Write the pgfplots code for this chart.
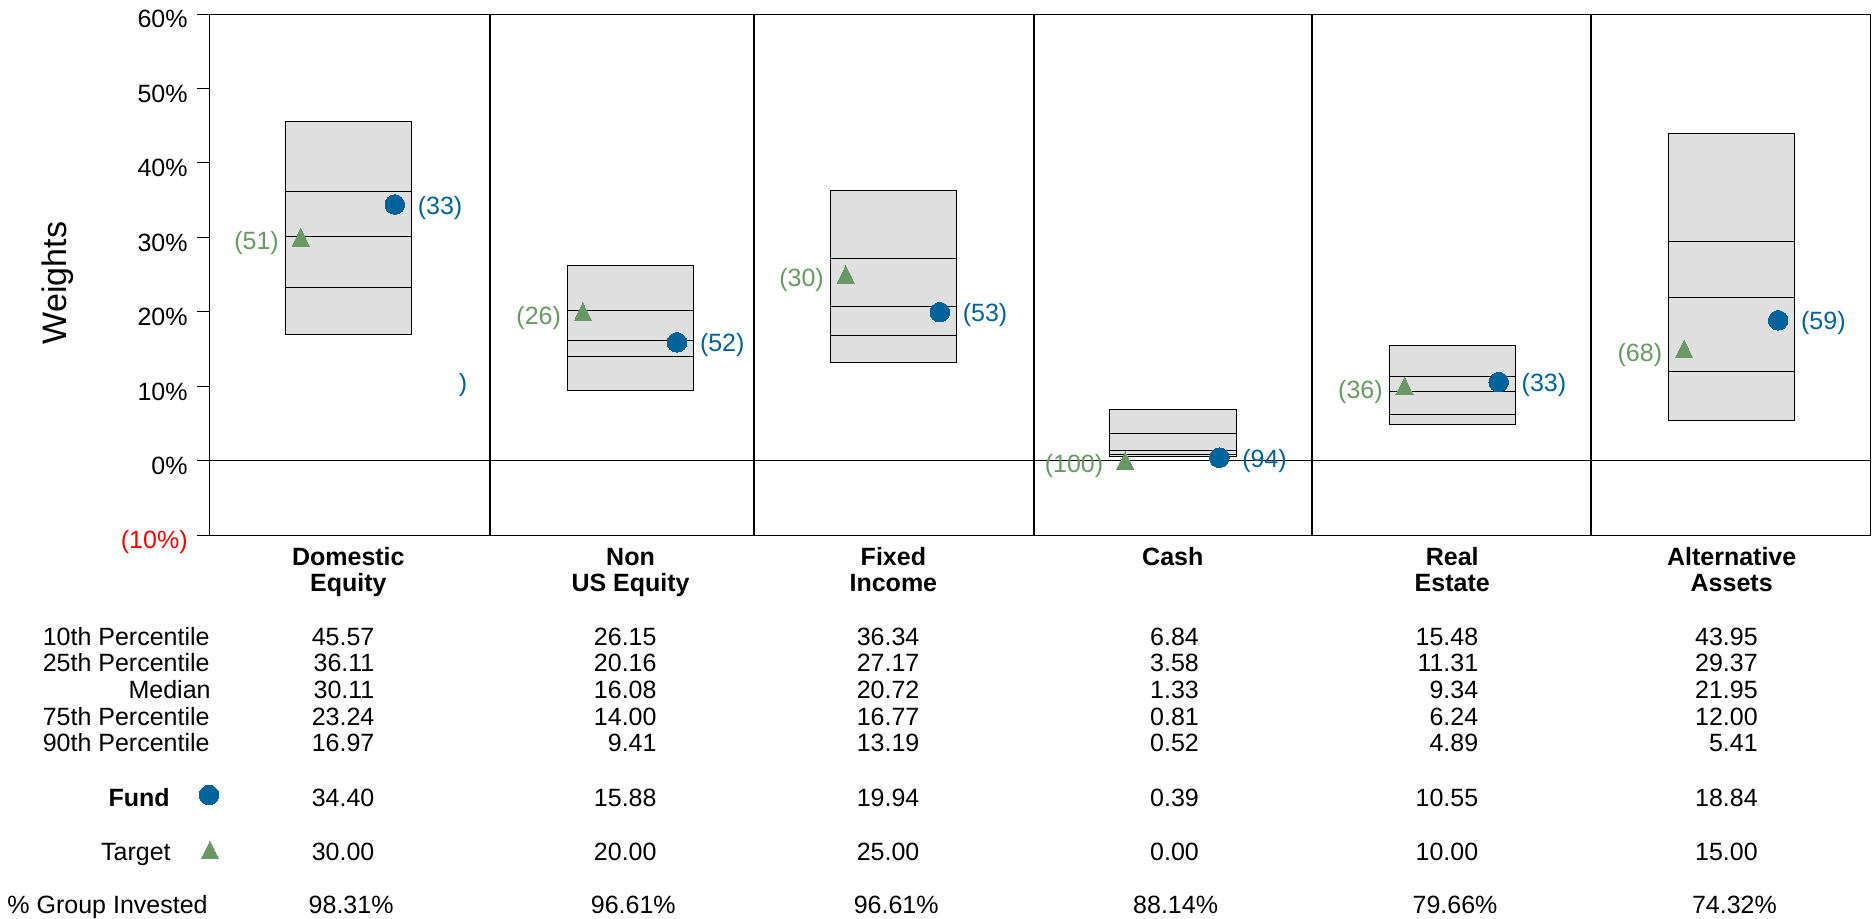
\documentclass[border=0pt]{standalone}
\usepackage{fontspec}
\setmainfont{Liberation Sans}
\usepackage{pgfplots}
\usepackage{pgfplotstable}
\pgfplotsset{compat=1.18}

\definecolor{fundblue}{RGB}{0,98,155}
\definecolor{targetgreen}{RGB}{104,152,100}
\definecolor{boxgray}{RGB}{223,223,223}

\newcommand\tf{\fontsize{12.5pt}{15pt}\selectfont}

% Asset allocation percentiles, fund and target weights, ranks, share of group invested
\pgfplotstableread{
pos   p10   p25   med   p75   p90   fund  target frank trank invested
0.00  45.57 36.11 30.11 23.24 16.97 34.40 30.00  33    51    98.31
1.02  26.15 20.16 16.08 14.00 9.41  15.88 20.00  52    26    96.61
1.97  36.34 27.17 20.72 16.77 13.19 19.94 25.00  53    30    96.61
2.98  6.84  3.58  1.33  0.81  0.52  0.39  0.00   94    100   88.14
3.99  15.48 11.31 9.34  6.24  4.89  10.55 10.00  33    36    79.66
5.00  43.95 29.37 21.95 12.00 5.41  18.84 15.00  59    68    74.32
}\alloc

\pgfplotsset{
  panelaxis/.style={width=830pt, height=260.5pt, scale only axis,
    xmin=-0.5, xmax=5.5, ymin=-10, ymax=60, at={(0,0)}, anchor=south west},
  boxseg/.style={draw=black, fill=boxgray, line width=0.5pt},
  fundmark/.style={only marks, mark=*, mark size=4.9pt, color=fundblue,
    mark options={solid, draw=fundblue, fill=fundblue, line width=0pt}},
  targetmark/.style={only marks, mark=triangle*, mark size=5.9pt, color=targetgreen,
    mark options={solid, draw=targetgreen, fill=targetgreen, line width=0pt,
      xscale=0.85, yshift=-1.45pt}},
}

\begin{document}
\begin{tikzpicture}
\useasboundingbox (-105pt,-191.5pt) rectangle (831.5pt,267.5pt);

% floating boxes: 90th -> 75th -> median -> 25th -> 10th percentile
\begin{axis}[panelaxis, hide axis, ybar stacked, bar width=0.457]
  \addplot[draw=none, fill=none] table[x=pos, y=p90] {\alloc};
  \addplot[boxseg] table[x=pos, y expr=\thisrow{p75}-\thisrow{p90}] {\alloc};
  \addplot[boxseg] table[x=pos, y expr=\thisrow{med}-\thisrow{p75}] {\alloc};
  \addplot[boxseg] table[x=pos, y expr=\thisrow{p25}-\thisrow{med}] {\alloc};
  \addplot[boxseg] table[x=pos, y expr=\thisrow{p10}-\thisrow{p25}] {\alloc};
\end{axis}

\begin{axis}[panelaxis, clip=false,
  /pgf/number format/assume math mode=true,
  axis line style={line width=0.5pt},
  xtick=\empty,
  ytick={-10,0,...,60},
  yticklabels={{\color{red}(10\%)},0\%,10\%,20\%,30\%,40\%,50\%,60\%},
  ytick pos=left, tick align=outside, major tick length=6.5pt,
  tick style={black, line width=0.5pt},
  yticklabel style={font=\tf, anchor=base east, inner sep=0pt, xshift=-4.5pt, yshift=-6.95pt},
  ylabel={Weights},
  every axis y label/.style={at={(rel axis cs:-0.09157,0.4837)}, rotate=90, anchor=center,
    font=\fontsize{17pt}{20pt}\selectfont},
]
  \draw[line width=0.5pt] (axis cs:-0.5,0) -- (axis cs:5.5,0);
  \draw[line width=1pt] (axis cs:0.512,-10) -- (axis cs:0.512,60);
  \draw[line width=0.6pt] (axis cs:1.466,-10) -- (axis cs:1.466,60);
  \draw[line width=0.6pt] (axis cs:2.478,-10) -- (axis cs:2.478,60);
  \draw[line width=0.6pt] (axis cs:3.483,-10) -- (axis cs:3.483,60);
  \draw[line width=1pt] (axis cs:4.491,-10) -- (axis cs:4.491,60);

  % fund weights with group ranks
  \addplot[fundmark,
    point meta=explicit,
    nodes near coords={(\pgfmathprintnumber{\pgfplotspointmeta})},
    every node near coord/.append style={anchor=west, xshift=11.5pt, yshift=-1.5pt,
      inner sep=0pt, font=\tf, text=fundblue}]
    table[x expr=\thisrow{pos}+0.168, y=fund, meta=frank] {\alloc};

  % target weights with group ranks
  \addplot[targetmark,
    point meta=explicit,
    nodes near coords={(\pgfmathprintnumber{\pgfplotspointmeta})},
    every node near coord/.append style={anchor=east, xshift=-11pt, yshift=-1.5pt,
      inner sep=0pt, font=\tf, text=targetgreen}]
    table[x expr=\thisrow{pos}-0.172, y=target, meta=trank] {\alloc};

  % key symbols beside the Fund and Target rows
  \addplot[fundmark] coordinates {(-0.5036,-44.93)};
  \addplot[targetmark] coordinates {(-0.5,-52.32)};

  \node[font=\tf, text=fundblue, inner sep=0pt] at (axis cs:0.4145,10.16) {)};
\end{axis}

% row captions
\begin{scope}[every node/.style={font=\tf, inner sep=0pt, anchor=base east}]
  \node at (0,-55pt) {10th Percentile};
  \node at (0,-68.35pt) {25th Percentile};
  \node at (0.5pt,-81.7pt) {Median};
  \node at (0,-95.05pt) {75th Percentile};
  \node at (0,-108.4pt) {90th Percentile};
  \node[font=\tf\bfseries] at (-20pt,-135.85pt) {Fund};
  \node at (-19.5pt,-162.5pt) {Target};
  \node at (-1pt,-189.2pt) {\% Group Invested};
\end{scope}

% column headers and values
\foreach \r/\a/\b in {0/Domestic/Equity,1/Non/US Equity,2/Fixed/Income,3/Cash/,4/Real/Estate,5/Alternative/Assets}{
  \pgfplotstablegetelem{\r}{pos}\of\alloc
  \pgfmathsetmacro\cx{(\pgfplotsretval+0.5)*138.333}
  \node[anchor=base, font=\tf\bfseries, inner sep=0pt] at (\cx pt,-15pt) {\a};
  \node[anchor=base, font=\tf\bfseries, inner sep=0pt] at (\cx pt,-28.35pt) {\b};
  \foreach \c/\yy in {p10/-55,p25/-68.35,med/-81.7,p75/-95.05,p90/-108.4,fund/-135.85,target/-162.5}{
    \pgfplotstablegetelem{\r}{\c}\of\alloc
    \node[anchor=base east, font=\tf, inner sep=0pt] at (\cx pt+13.2pt,\yy pt) {\pgfplotsretval};
  }
  \pgfplotstablegetelem{\r}{invested}\of\alloc
  \node[anchor=base, font=\tf, inner sep=0pt] at (\cx pt+1.4pt,-189.2pt) {\pgfplotsretval\%};
}
\end{tikzpicture}
\end{document}
